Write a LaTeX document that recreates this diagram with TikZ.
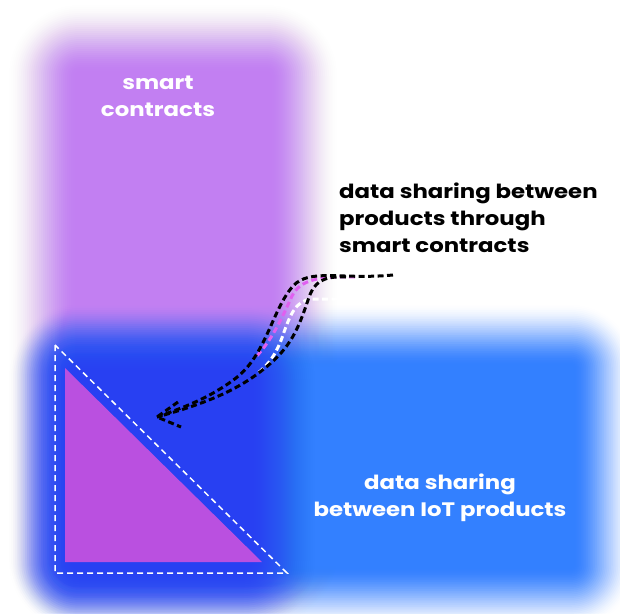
\documentclass[tikz,border=0pt]{standalone}
\usepackage{fontspec}
\setmainfont{Poppins}
\newfontfamily\widefont[FakeStretch=1.17]{Poppins}
\usetikzlibrary{calc}

\definecolor{lilac}{HTML}{C27FF2}
\definecolor{skyblue}{HTML}{3380FF}
\definecolor{deepblue}{HTML}{2840F2}
\definecolor{orchid}{HTML}{BA50E0}
\definecolor{pinkline}{HTML}{E060F0}

% soft-edged box: colour, x1, y1, x2, y2, blur
\newcommand{\softbox}[6]{%
  \foreach \k in {1,...,36}{
    \pgfmathsetmacro{\ta}{(\k-1)/36}
    \pgfmathsetmacro{\tb}{\k/36}
    \pgfmathsetmacro{\ca}{3*\ta*\ta-2*\ta*\ta*\ta}
    \pgfmathsetmacro{\cb}{3*\tb*\tb-2*\tb*\tb*\tb}
    \pgfmathsetmacro{\op}{(\cb-\ca)/(1-\ca)}
    \pgfmathsetmacro{\grow}{#6*(1-2*(\k-0.5)/36)}
    \pgfmathsetmacro{\rad}{max(#6+\grow,0.5)}
    \pgfmathsetmacro{\xa}{#2-\grow}
    \pgfmathsetmacro{\ya}{#3-\grow}
    \pgfmathsetmacro{\xb}{#4+\grow}
    \pgfmathsetmacro{\yb}{#5+\grow}
    \fill[#1, fill opacity=\op, rounded corners=\rad pt] (\xa,\ya) rectangle (\xb,\yb);
  }}

\tikzset{
  label/.style={font=\widefont\bfseries\fontsize{19.5}{27}\selectfont, align=center, inner sep=0pt},
  sketch/.style={dash pattern=on 6pt off 3.5pt, line width=3pt},
}

\begin{document}
\begin{tikzpicture}[x=1pt,y=-1pt]
  \fill[white] (0,0) rectangle (620,613);
  \useasboundingbox (0,0) rectangle (620,613);

  % blurred panels
  \softbox{lilac}{44}{40}{302}{590}{36}
  \softbox{skyblue}{44}{336}{603}{597}{32}
  \softbox{deepblue}{44}{343}{280}{597}{36}

  % triangle and its dashed outline
  \fill[orchid] (65,368) -- (65,562) -- (262,562) -- cycle;
  \draw[white, line width=1.5pt, dash pattern=on 6pt off 4pt]
    (55,345) -- (55,573) -- (287,573) -- cycle;

  % labels
  \node[label, text=white] (contracts) at (158,96) {smart\\contracts};
  \node[label, text=black, anchor=west, align=left] (sharing) at (339,218)
    {data sharing between\\products through\\smart contracts};
  \node[label, text=white] (iot) at (440,498) {data sharing\\between IoT products};

  \coordinate (start) at (393,275);
  \coordinate (tip) at (157,417);

  % hand-drawn arrow
  \draw[sketch, pinkline] (355,277) .. controls (318,276) and (300,280) .. (292,296)
    .. controls (281,320) and (272,340) .. (255,358);
  \draw[sketch, white] (366,299) -- (312,299) .. controls (296,300) and (290,315) .. (283,335)
    .. controls (276,355) and (268,365) .. (258,373);
  \draw[sketch, black] (start) .. controls (340,280) and (310,268) .. (293,286)
    .. controls (272,310) and (266,355) .. (236,378)
    .. controls (210,398) and (182,408) .. (tip);
  \draw[sketch, black] (346,277) .. controls (322,276) and (314,282) .. (308,300)
    .. controls (298,330) and (290,348) .. (265,368)
    .. controls (236,392) and (200,405) .. (tip);
  \draw[sketch, black] (178,402) -- (tip) -- (181,427);
\end{tikzpicture}
\end{document}
